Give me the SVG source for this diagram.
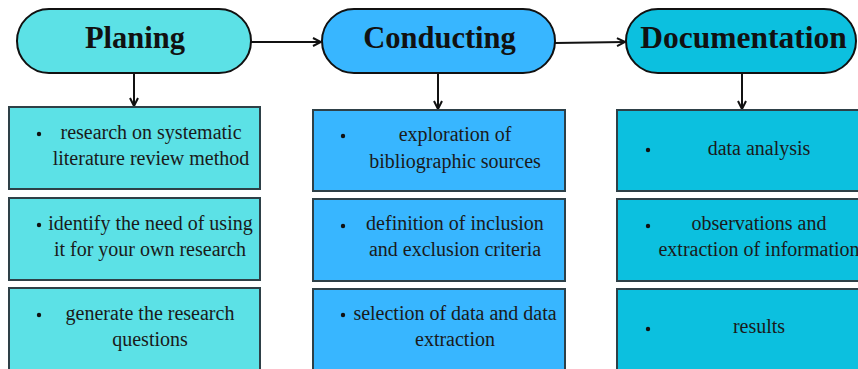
<svg xmlns="http://www.w3.org/2000/svg" width="858" height="369" viewBox="0 0 858 369">
<defs>
<marker id="arr" viewBox="0 0 10 10" refX="9" refY="5" markerWidth="10" markerHeight="10" markerUnits="userSpaceOnUse" orient="auto">
<path d="M1,1 L9,5 L1,9" fill="none" stroke="#111" stroke-width="2"/>
</marker>
</defs>
<style>
.pill{stroke:#111;stroke-width:2}
.box{stroke:#2e4047;stroke-width:2}
.c1{fill:#5ce1e6}.c2{fill:#38b6ff}.c3{fill:#0cc0df}
.h{font-family:"Liberation Serif","Times New Roman",serif;font-weight:bold;font-size:30.5px;fill:#111;text-anchor:middle}
.t{font-family:"Liberation Serif","Times New Roman",serif;font-size:20px;fill:#1a1a1a;text-anchor:middle}
.b{fill:#111}
.ln{stroke:#111;stroke-width:2;fill:none}
</style>
<rect width="858" height="369" fill="#fff"/>
<g id="connectors">
<line class="ln" x1="251" y1="42" x2="321" y2="42" marker-end="url(#arr)"/>
<line class="ln" x1="555" y1="43" x2="625" y2="42" marker-end="url(#arr)"/>
<line class="ln" x1="134" y1="73" x2="134" y2="106" marker-end="url(#arr)"/>
<line class="ln" x1="438" y1="73" x2="438" y2="109" marker-end="url(#arr)"/>
<line class="ln" x1="742" y1="73" x2="742" y2="109" marker-end="url(#arr)"/>
</g>
<g id="planing">
<rect class="pill c1" x="17" y="9" width="234" height="64" rx="32"/>
<text class="h" x="135" y="48">Planing</text>
</g>
<g id="conducting">
<rect class="pill c2" x="322" y="9" width="233" height="64" rx="32"/>
<text class="h" x="439.500" y="48">Conducting</text>
</g>
<g id="documentation">
<rect class="pill c3" x="626" y="9" width="230" height="64" rx="32"/>
<text class="h" x="743.500" y="48" style="font-size:31.5px">Documentation</text>
</g>
<g id="p1">
<rect class="box c1" x="9" y="107" width="251" height="82"/>
<circle class="b" cx="39" cy="134" r="2.2"/>
<text class="t" x="151" y="139">research on systematic</text>
<text class="t" x="151" y="165">literature review method</text>
</g>
<g id="p2">
<rect class="box c1" x="9" y="198" width="251" height="82"/>
<circle class="b" cx="39" cy="225" r="2.2"/>
<text class="t" x="150.500" y="230">identify the need of using</text>
<text class="t" x="150" y="256">it for your own research</text>
</g>
<g id="p3">
<rect class="box c1" x="9" y="288" width="251" height="90"/>
<circle class="b" cx="39" cy="315" r="2.2"/>
<text class="t" x="150" y="320">generate the research</text>
<text class="t" x="150" y="346">questions</text>
</g>
<g id="c1">
<rect class="box c2" x="313" y="110" width="252" height="81"/>
<circle class="b" cx="343" cy="136" r="2.2"/>
<text class="t" x="455" y="141">exploration of</text>
<text class="t" x="455" y="168">bibliographic sources</text>
</g>
<g id="c2">
<rect class="box c2" x="313" y="199" width="252" height="82"/>
<circle class="b" cx="343" cy="226" r="2.2"/>
<text class="t" x="455" y="230">definition of inclusion</text>
<text class="t" x="455" y="256">and exclusion criteria</text>
</g>
<g id="c3">
<rect class="box c2" x="313" y="289" width="252" height="90"/>
<circle class="b" cx="343" cy="315" r="2.2"/>
<text class="t" x="455" y="320">selection of data and data</text>
<text class="t" x="455" y="346">extraction</text>
</g>
<g id="d1">
<rect class="box c3" x="617" y="110" width="250" height="81"/>
<circle class="b" cx="648" cy="150" r="2.2"/>
<text class="t" x="759" y="155">data analysis</text>
</g>
<g id="d2">
<rect class="box c3" x="617" y="199" width="250" height="82"/>
<circle class="b" cx="648" cy="226" r="2.2"/>
<text class="t" x="759" y="230">observations and</text>
<text class="t" x="759" y="256">extraction of information</text>
</g>
<g id="d3">
<rect class="box c3" x="617" y="289" width="250" height="90"/>
<circle class="b" cx="648" cy="329" r="2.2"/>
<text class="t" x="759" y="333">results</text>
</g>
</svg>
